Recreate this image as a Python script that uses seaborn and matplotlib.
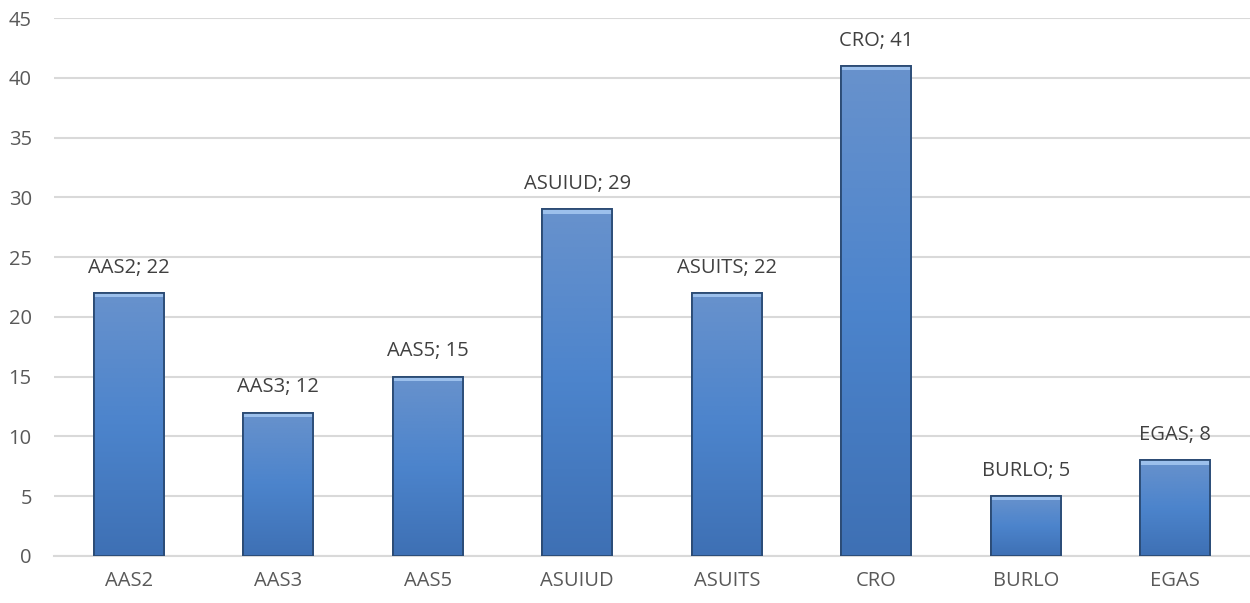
import matplotlib
matplotlib.use("Agg")
import matplotlib.pyplot as plt
import seaborn as sns
import pandas as pd
import numpy as np

categories = ["AAS2", "AAS3", "AAS5", "ASUIUD", "ASUITS", "CRO", "BURLO", "EGAS"]
values = [22, 12, 15, 29, 22, 41, 5, 8]
yticks = [0, 5, 10, 15, 20, 25, 30, 35, 40, 45]

sns.set_theme(style="white")
plt.rcParams['font.family'] = ['Open Sans', 'DejaVu Sans']

df = pd.DataFrame({"cat": categories, "val": values})

fig = plt.figure(figsize=(12.5, 6.03), dpi=100)
ax = fig.add_axes([0.0432, 0.078, 0.9568, 0.892])

sns.barplot(data=df, x="cat", y="val", ax=ax, color="#4a7fc6", width=0.47,
            edgecolor="#2a4a73", linewidth=1.2, saturation=1, zorder=3)

cmap_v = matplotlib.colors.LinearSegmentedColormap.from_list(
    "v", ["#3e70b4", "#4c84cc", "#6892cc"])
for p in ax.patches:
    x0, w = p.get_x(), p.get_width()
    h = p.get_height()
    grad = np.linspace(0, 1, 256).reshape(-1, 1)
    im = ax.imshow(grad, extent=[x0, x0 + w, 0, h], aspect='auto',
                   origin='lower', cmap=cmap_v, zorder=3.5)
    im.set_clip_path(p)
    top = matplotlib.patches.Rectangle((x0, h - 0.35), w, 0.35,
                                       facecolor="#9cc0ec", edgecolor="none",
                                       zorder=3.6)
    ax.add_patch(top)
    edge = matplotlib.patches.Rectangle((x0, 0), w, h, facecolor="none",
                                        edgecolor="#2a4a73", linewidth=1.3,
                                        zorder=3.7)
    ax.add_patch(edge)

for i, (c, v) in enumerate(zip(categories, values)):
    ax.annotate(f"{c}; {v}", (i, v), xytext=(0, 11), textcoords="offset points",
                ha="center", va="bottom", fontsize=14.5, color="#404040", zorder=5)

ax.set_xlim(-0.5, len(categories) - 0.5)
ax.set_ylim(0, 45)
ax.set_yticks(yticks)
ax.yaxis.grid(True, color="#d9d9d9", linewidth=1.5, zorder=0)
ax.set_axisbelow(True)
for s in ["top", "right", "left"]:
    ax.spines[s].set_visible(False)
ax.spines["bottom"].set_color("#d9d9d9")
ax.spines["bottom"].set_linewidth(1.5)
ax.set_xlabel("")
ax.set_ylabel("")
ax.tick_params(axis="both", length=0, labelsize=14.5, colors="#595959")
ax.tick_params(axis="y", pad=16)
ax.tick_params(axis="x", pad=11)

fig.savefig("out.png", dpi=100)
